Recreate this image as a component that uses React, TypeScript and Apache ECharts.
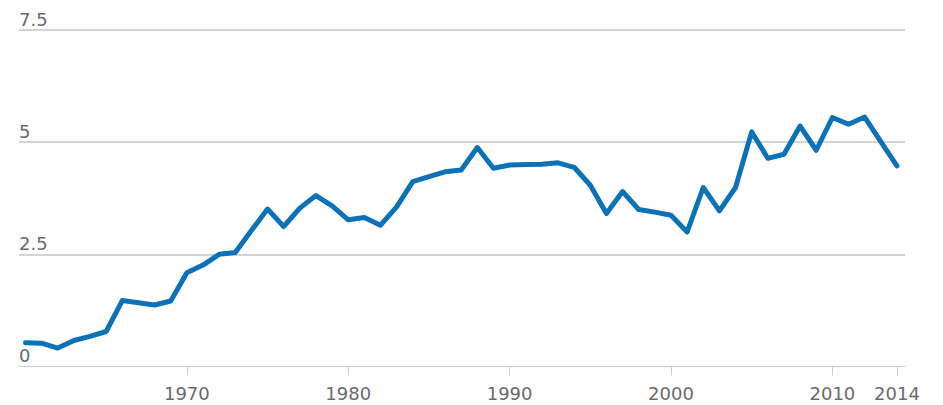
import React, { useEffect, useRef } from "react";
import * as echarts from "echarts";

const years = [
  1960, 1961, 1962, 1963, 1964, 1965, 1966, 1967, 1968, 1969,
  1970, 1971, 1972, 1973, 1974, 1975, 1976, 1977, 1978, 1979,
  1980, 1981, 1982, 1983, 1984, 1985, 1986, 1987, 1988, 1989,
  1990, 1991, 1992, 1993, 1994, 1995, 1996, 1997, 1998, 1999,
  2000, 2001, 2002, 2003, 2004, 2005, 2006, 2007, 2008, 2009,
  2010, 2011, 2012, 2013, 2014,
];

const values = [
  0.53, 0.52, 0.41, 0.58, 0.67, 0.78, 1.47, 1.42, 1.37, 1.46,
  2.09, 2.26, 2.5, 2.54, 3.03, 3.51, 3.12, 3.53, 3.81, 3.58,
  3.27, 3.32, 3.15, 3.56, 4.12, 4.23, 4.34, 4.38, 4.88, 4.42,
  4.49, 4.5, 4.51, 4.54, 4.44, 4.04, 3.41, 3.9, 3.5, 3.44,
  3.37, 3.0, 3.99, 3.47, 3.99, 5.23, 4.64, 4.73, 5.36, 4.82,
  5.55, 5.4, 5.56, 5.01, 4.47,
];

const xTickValues = [1970, 1980, 1990, 2000, 2010, 2014];
const yTickValues = [0, 2.5, 5, 7.5];

const FONT = "'DejaVu Sans', Verdana, sans-serif";
const LABEL_COLOR = "#6a6a6a";

export default function App() {
  const ref = useRef<HTMLDivElement>(null);

  useEffect(() => {
    if (!ref.current) return;
    const chart = echarts.init(ref.current, undefined, { renderer: "svg" });
    const seriesData = years.map((y, i) => [y, values[i]]);
    chart.setOption({
      animation: false,
      backgroundColor: "#ffffff",
      grid: { left: 19, right: 38, top: 30, bottom: 38.5, containLabel: false },
      xAxis: {
        type: "value",
        min: 1959.6,
        max: 2014.5,
        axisLine: { show: true, lineStyle: { color: "#c0d0e0", width: 1 } },
        axisTick: {
          show: true,
          length: 9,
          customValues: xTickValues,
          lineStyle: { color: "#c0d0e0", width: 1 },
        },
        axisLabel: {
          customValues: xTickValues,
          color: LABEL_COLOR,
          fontFamily: FONT,
          fontSize: 18,
          margin: 18,
          formatter: (v: number) => String(v),
        },
        splitLine: { show: false },
      },
      yAxis: {
        type: "value",
        min: 0,
        max: 7.5,
        interval: 2.5,
        axisLine: { show: false },
        axisTick: { show: false },
        axisLabel: {
          inside: true,
          margin: 0,
          align: "left",
          verticalAlign: "bottom",
          lineHeight: 18,
          padding: [0, 0, 2, 0],
          color: LABEL_COLOR,
          fontFamily: FONT,
          fontSize: 18,
          formatter: (v: number) => (yTickValues.includes(v) ? String(v) : ""),
        },
        splitLine: {
          show: true,
          lineStyle: {
            color: ["rgba(0,0,0,0)", "#c6c6c6", "#c6c6c6", "#c6c6c6"],
            width: 1.5,
          },
        },
      },
      series: [
        {
          type: "line",
          data: seriesData,
          showSymbol: false,
          symbol: "none",
          lineStyle: { color: "#0b72b9", width: 5, cap: "round", join: "round" },
          z: 3,
        },
      ],
    });
    return () => chart.dispose();
  }, []);

  return (
    <div
      ref={ref}
      style={{ position: "fixed", left: 0, top: 0, width: 943, height: 405 }}
    />
  );
}
